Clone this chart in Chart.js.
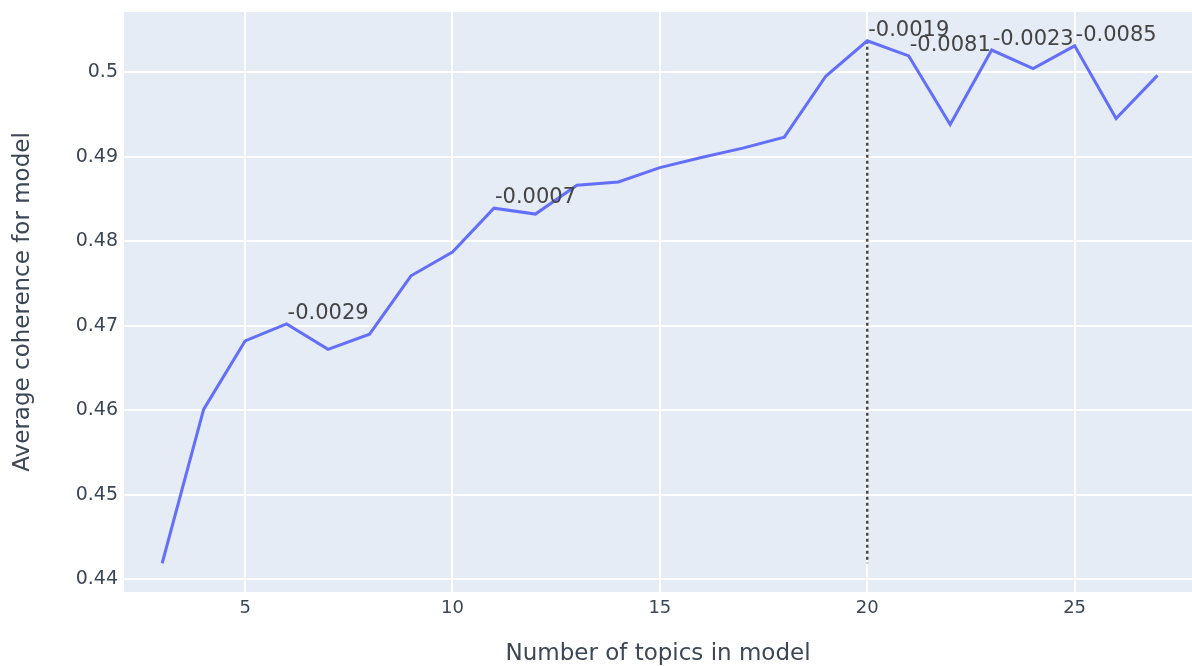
<!DOCTYPE html>
<html>
<head>
<meta charset="utf-8">
<script src="https://cdn.jsdelivr.net/npm/chart.js@4"></script>
<style>
  html, body { margin: 0; padding: 0; background: #fff; }
  #wrap { width: 1192px; height: 666px; }
</style>
</head>
<body>
<div id="wrap"><canvas id="chart" width="1192" height="666"></canvas></div>
<script>
// number of topics and the average coherence for each model
const topics = [3, 4, 5, 6, 7, 8, 9, 10, 11, 12, 13, 14, 15, 16, 17, 18, 19, 20, 21, 22, 23, 24, 25, 26, 27];
const coherence = [
  0.4419, 0.4601, 0.4682, 0.4702, 0.4672, 0.4690, 0.4759, 0.4787, 0.4839, 0.4832,
  0.4866, 0.4870, 0.4887, 0.4899, 0.4910, 0.4923, 0.4995, 0.5037, 0.5019, 0.4938,
  0.5026, 0.5004, 0.5031, 0.4945, 0.4996
];

// text shown next to some of the points
const noteTopics = [6, 11, 20, 21, 23, 25];
const noteTexts = ['-0.0029', '-0.0007', '-0.0019', '-0.0081', '-0.0023', '-0.0085'];

// best model marker
const bestTopic = 20;

const xTicks = [5, 10, 15, 20, 25];
const yTicks = [0.44, 0.45, 0.46, 0.47, 0.48, 0.49, 0.5];

const fontFamily = '"DejaVu Sans", Verdana, sans-serif';
const textColor = '#3b4656';

const bestIdx = topics.indexOf(bestTopic);
const minY = Math.min(...coherence);

const plotBg = {
  id: 'plotBg',
  beforeDraw: (chart) => {
    const { ctx, chartArea: a } = chart;
    ctx.save();
    ctx.fillStyle = '#e5ecf6';
    ctx.fillRect(a.left, a.top, a.right - a.left, a.bottom - a.top);
    ctx.restore();
  }
};

const notes = {
  id: 'notes',
  afterDatasetsDraw: (chart) => {
    const { ctx, scales } = chart;
    ctx.save();
    ctx.font = '21px ' + fontFamily;
    ctx.fillStyle = '#444';
    ctx.textAlign = 'left';
    ctx.textBaseline = 'alphabetic';
    noteTopics.forEach((t, i) => {
      const v = coherence[topics.indexOf(t)];
      const px = scales.x.getPixelForValue(t);
      const py = scales.y.getPixelForValue(v);
      ctx.fillText(noteTexts[i], px + 1, py - 5);
    });
    ctx.restore();
  }
};

new Chart(document.getElementById('chart'), {
  type: 'line',
  data: {
    datasets: [
      {
        data: topics.map((t, i) => ({ x: t, y: coherence[i] })),
        borderColor: '#636efa',
        borderWidth: 3,
        pointRadius: 0,
        tension: 0,
        fill: false
      },
      {
        data: [
          { x: bestTopic, y: coherence[bestIdx] },
          { x: bestTopic, y: minY }
        ],
        borderColor: '#4a4a4a',
        borderWidth: 2.5,
        borderDash: [3, 3],
        pointRadius: 0,
        fill: false
      }
    ]
  },
  options: {
    responsive: false,
    animation: false,
    devicePixelRatio: 1,
    layout: { padding: { top: 12, right: 0, left: 0, bottom: 0 } },
    plugins: {
      legend: { display: false },
      tooltip: { enabled: false }
    },
    scales: {
      x: {
        type: 'linear',
        min: 2.08,
        max: 27.83,
        afterBuildTicks: (s) => { s.ticks = xTicks.map(v => ({ value: v })); },
        afterFit: (s) => {
          s.height = 74;
          s.paddingLeft = 0;
          s.paddingRight = 0;
        },
        grid: { color: '#ffffff', lineWidth: 2, drawTicks: false },
        border: { display: false },
        ticks: {
          padding: 6,
          color: textColor,
          font: { family: fontFamily, size: 18 },
          maxRotation: 0
        },
        title: {
          display: true,
          text: 'Number of topics in model',
          color: textColor,
          font: { family: fontFamily, size: 23, lineHeight: 1 },
          padding: 0
        }
      },
      y: {
        type: 'linear',
        min: 0.4385,
        max: 0.5071,
        afterBuildTicks: (s) => { s.ticks = yTicks.map(v => ({ value: v })); },
        afterFit: (s) => {
          s.width = 124;
          s.paddingTop = 0;
          s.paddingBottom = 0;
        },
        grid: { color: '#ffffff', lineWidth: 2, drawTicks: false },
        border: { display: false },
        ticks: {
          padding: 6,
          color: textColor,
          font: { family: fontFamily, size: 19 },
          callback: (v) => String(+v.toFixed(2))
        },
        title: {
          display: true,
          text: 'Average coherence for model',
          color: textColor,
          font: { family: fontFamily, size: 23, lineHeight: 1 },
          padding: { top: 12, bottom: 0 }
        }
      }
    }
  },
  plugins: [plotBg, notes]
});
</script>
</body>
</html>
